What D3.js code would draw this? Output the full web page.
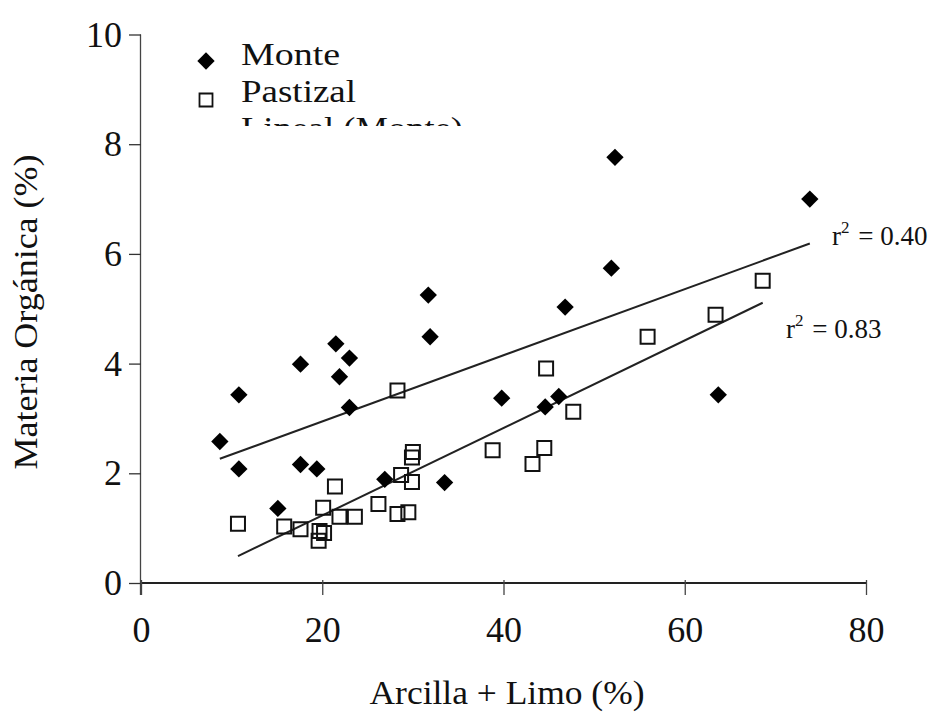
<!DOCTYPE html>
<html>
<head>
<meta charset="utf-8">
<script src="https://cdn.jsdelivr.net/npm/d3@7"></script>
<style>
  html, body { margin: 0; padding: 0; background: #fff; }
  svg { display: block; }
  text { font-family: "Liberation Serif", "Times New Roman", serif; fill: #111; }
</style>
</head>
<body>
<svg id="chart" width="936" height="713"></svg>
<script>
// ---- data ----
const xTicks = [0, 20, 40, 60, 80];
const yTicks = [0, 2, 4, 6, 8, 10];
const seriesNames = ["Monte", "Pastizal", "Lineal (Monte)"];

const monteX = [8.7, 10.8, 10.8, 15.1, 17.6, 17.6, 19.4, 21.5, 21.9, 23.0, 23.0, 26.9, 31.7, 31.9, 33.5, 39.8, 44.6, 46.1, 46.8, 51.9, 52.3, 63.7, 73.8];
const monteY = [2.58, 3.43, 2.08, 1.36, 3.99, 2.16, 2.08, 4.36, 3.76, 4.10, 3.20, 1.89, 5.25, 4.49, 1.83, 3.37, 3.21, 3.40, 5.03, 5.74, 7.76, 3.43, 7.00];

const pastizalX = [10.7, 15.8, 17.6, 19.7, 20.2, 19.6, 20.1, 21.4, 21.9, 23.6, 26.2, 28.3, 29.5, 28.7, 29.9, 29.9, 30.0, 28.3, 38.8, 43.2, 44.5, 44.7, 47.7, 55.9, 63.4, 68.6];
const pastizalY = [1.08, 1.03, 0.98, 0.95, 0.91, 0.77, 1.37, 1.76, 1.21, 1.21, 1.44, 1.26, 1.29, 1.97, 1.84, 2.29, 2.39, 3.51, 2.42, 2.17, 2.46, 3.91, 3.12, 4.49, 4.89, 5.51];

// linear trend lines (intercept, slope) and r² labels
const trendIntercepts = [1.74, -0.365];
const trendSlopes = [0.0603, 0.0798];
const r2Labels = ["0.40", "0.83"];

// ---- drawing ----
const svg = d3.select("#chart");
const x = d3.scaleLinear().domain([0, 80]).range([141, 866]);
const y = d3.scaleLinear().domain([0, 10]).range([583, 34.5]);

// axes
const yAxis = svg.append("g").attr("transform", `translate(${x(0)},0)`)
  .call(d3.axisLeft(y).tickValues(yTicks).tickSize(12).tickPadding(8).tickFormat(d3.format("d")));
yAxis.select(".domain").attr("stroke", "#444").attr("stroke-width", 1.3).attr("d", `M-0.5,${y(10)}V${y(0)+12}`);
yAxis.selectAll(".tick line").attr("stroke", "#333").attr("stroke-width", 1.3);
yAxis.selectAll(".tick text").style("font-size", "36px").attr("fill", "#111").attr("x", -19);

const xAxis = svg.append("g").attr("transform", `translate(0,${y(0)})`)
  .call(d3.axisBottom(x).tickValues(xTicks).tickSize(12).tickPadding(21).tickFormat(d3.format("d")));
xAxis.select(".domain").attr("stroke", "#222").attr("stroke-width", 2.2).attr("d", `M${x(0)},0H${x(80)}`);
xAxis.selectAll(".tick line").attr("stroke", "#444").attr("stroke-width", 1.3).attr("y1", -3);
xAxis.selectAll(".tick text").style("font-size", "36px").attr("fill", "#111");

// axis titles
svg.append("text").attr("x", 507).attr("y", 704).attr("text-anchor", "middle")
  .style("font-size", "34px").attr("textLength", 275).attr("lengthAdjust", "spacingAndGlyphs")
  .text("Arcilla + Limo (%)");
svg.append("text").attr("transform", "translate(37,312) rotate(-90)").attr("text-anchor", "middle")
  .style("font-size", "34px").attr("textLength", 315).attr("lengthAdjust", "spacingAndGlyphs")
  .text("Materia Orgánica (%)");

// trend lines
const groups = [
  { xs: monteX, ys: monteY, i: 0 },
  { xs: pastizalX, ys: pastizalY, i: 1 }
];
groups.forEach(g => {
  const [x0, x1] = d3.extent(g.xs);
  const b = trendIntercepts[g.i], m = trendSlopes[g.i];
  svg.append("line")
    .attr("x1", x(x0)).attr("y1", y(b + m * x0))
    .attr("x2", x(x1)).attr("y2", y(b + m * x1))
    .attr("stroke", "#222").attr("stroke-width", 2);
});

// markers
const diamond = d3.symbol().type(d3.symbolSquare).size(150);
const square = d3.symbol().type(d3.symbolSquare).size(196);

svg.append("g").selectAll("path").data(pastizalX.map((v, i) => [v, pastizalY[i]]))
  .join("path")
  .attr("d", square)
  .attr("transform", d => `translate(${x(d[0])},${y(d[1])})`)
  .attr("fill", "none").attr("stroke", "#111").attr("stroke-width", 2);

svg.append("g").selectAll("path").data(monteX.map((v, i) => [v, monteY[i]]))
  .join("path")
  .attr("d", diamond)
  .attr("transform", d => `translate(${x(d[0])},${y(d[1])}) rotate(45)`)
  .attr("fill", "#000");

// r² labels
const r2Pos = [[832, 245], [786, 338]];
const r2Len = [106, 102];
r2Labels.forEach((lab, i) => {
  const t = svg.append("text").attr("x", r2Pos[i][0]).attr("y", r2Pos[i][1]).style("font-size", "27px");
  t.append("tspan").text("r");
  t.append("tspan").attr("dy", -12).style("font-size", "17px").text("2");
  t.append("tspan").attr("dy", 12).attr("dx", 2).text(" = " + lab);
});

// legend (third entry clipped as in the original)
svg.append("defs").append("clipPath").attr("id", "legclip")
  .append("rect").attr("x", 180).attr("y", 30).attr("width", 300).attr("height", 96);
const leg = svg.append("g").attr("clip-path", "url(#legclip)");
leg.append("path").attr("d", diamond).attr("transform", "translate(206,61) rotate(45)").attr("fill", "#000");
leg.append("path").attr("d", d3.symbol().type(d3.symbolSquare).size(169))
  .attr("transform", "translate(206,100)").attr("fill", "none").attr("stroke", "#111").attr("stroke-width", 1.8);
leg.append("line").attr("x1", 190).attr("x2", 225).attr("y1", 137).attr("y2", 137).attr("stroke", "#222").attr("stroke-width", 2);
const legW = [99, 115, 222];
const legY = [65, 102, 139];
seriesNames.forEach((n, i) => {
  leg.append("text").attr("x", 241).attr("y", legY[i]).style("font-size", "31px")
    .attr("textLength", legW[i]).attr("lengthAdjust", "spacingAndGlyphs").text(n);
});
</script>
</body>
</html>
